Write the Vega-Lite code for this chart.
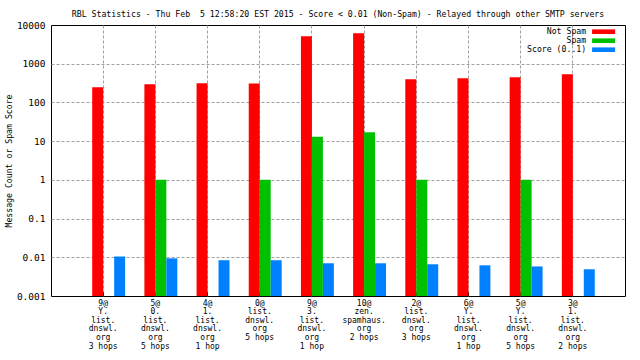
{
  "$schema": "https://vega.github.io/schema/vega-lite/v6.json",
  "width": 574,
  "height": 271,
  "autosize": "none",
  "padding": {"left": 51, "top": 25, "right": 15, "bottom": 64},
  "background": "white",
  "title": {
    "text": "RBL Statistics - Thu Feb \u00a05 12:58:20 EST 2015 - Score < 0.01 (Non-Spam) - Relayed through other SMTP servers",
    "font": "DejaVu Sans Mono",
    "fontSize": 8.2,
    "fontWeight": "normal",
    "color": "black",
    "anchor": "middle",
    "offset": 1
  },
  "config": {
    "view": {"stroke": "black", "strokeWidth": 1}
  },
  "data": {
    "values": [
      {"rbl": "9@|Y.|list.|dnswl.|org|3 hops", "series": "Not Spam", "value": 246},
      {"rbl": "9@|Y.|list.|dnswl.|org|3 hops", "series": "Score (0..1)", "value": 0.0105},
      {"rbl": "5@|0.|list.|dnswl.|org|5 hops", "series": "Not Spam", "value": 294},
      {"rbl": "5@|0.|list.|dnswl.|org|5 hops", "series": "Spam", "value": 1},
      {"rbl": "5@|0.|list.|dnswl.|org|5 hops", "series": "Score (0..1)", "value": 0.0094},
      {"rbl": "4@|1.|list.|dnswl.|org|1 hop", "series": "Not Spam", "value": 312},
      {"rbl": "4@|1.|list.|dnswl.|org|1 hop", "series": "Score (0..1)", "value": 0.0084},
      {"rbl": "0@|list.|dnswl.|org|5 hops", "series": "Not Spam", "value": 310},
      {"rbl": "0@|list.|dnswl.|org|5 hops", "series": "Spam", "value": 1},
      {"rbl": "0@|list.|dnswl.|org|5 hops", "series": "Score (0..1)", "value": 0.0084},
      {"rbl": "9@|3.|list.|dnswl.|org|1 hop", "series": "Not Spam", "value": 5100},
      {"rbl": "9@|3.|list.|dnswl.|org|1 hop", "series": "Spam", "value": 13},
      {"rbl": "9@|3.|list.|dnswl.|org|1 hop", "series": "Score (0..1)", "value": 0.0070},
      {"rbl": "10@|zen.|spamhaus.|org|2 hops", "series": "Not Spam", "value": 6100},
      {"rbl": "10@|zen.|spamhaus.|org|2 hops", "series": "Spam", "value": 17},
      {"rbl": "10@|zen.|spamhaus.|org|2 hops", "series": "Score (0..1)", "value": 0.0070},
      {"rbl": "2@|list.|dnswl.|org|3 hops", "series": "Not Spam", "value": 396},
      {"rbl": "2@|list.|dnswl.|org|3 hops", "series": "Spam", "value": 1},
      {"rbl": "2@|list.|dnswl.|org|3 hops", "series": "Score (0..1)", "value": 0.0066},
      {"rbl": "6@|Y.|list.|dnswl.|org|1 hop", "series": "Not Spam", "value": 420},
      {"rbl": "6@|Y.|list.|dnswl.|org|1 hop", "series": "Score (0..1)", "value": 0.0062},
      {"rbl": "5@|Y.|list.|dnswl.|org|5 hops", "series": "Not Spam", "value": 446},
      {"rbl": "5@|Y.|list.|dnswl.|org|5 hops", "series": "Spam", "value": 1},
      {"rbl": "5@|Y.|list.|dnswl.|org|5 hops", "series": "Score (0..1)", "value": 0.0058},
      {"rbl": "3@|1.|list.|dnswl.|org|2 hops", "series": "Not Spam", "value": 532},
      {"rbl": "3@|1.|list.|dnswl.|org|2 hops", "series": "Score (0..1)", "value": 0.0049}
    ]
  },
  "mark": {"type": "bar"},
  "encoding": {
    "x": {
      "field": "rbl",
      "type": "nominal",
      "sort": null,
      "scale": {"paddingInner": 0, "paddingOuter": 0.5},
      "axis": {
        "title": null,
        "labelExpr": "split(datum.value, '|')",
        "labelAngle": 0,
        "labelFont": "DejaVu Sans Mono",
        "labelFontSize": 8,
        "labelLineHeight": 8.6,
        "labelColor": "black",
        "labelBaseline": "top",
        "labelPadding": 7,
        "domain": false,
        "ticks": true,
        "tickSize": -4,
        "tickColor": "black",
        "bandPosition": 0.5,
        "grid": true,
        "gridDash": [3, 2],
        "gridColor": "#a0a0a0",
        "gridOpacity": 1
      }
    },
    "xOffset": {
      "field": "series",
      "type": "nominal",
      "scale": {"domain": ["_", "Not Spam", "Spam", "Score (0..1)"], "paddingInner": 0, "paddingOuter": 0.377}
    },
    "y": {
      "field": "value",
      "type": "quantitative",
      "scale": {"type": "log", "domain": [0.001, 10000], "nice": false},
      "axis": {
        "title": "Message Count or Spam Score",
        "titleFont": "DejaVu Sans Mono",
        "titleFontSize": 8.2,
        "titleFontWeight": "normal",
        "titleColor": "black",
        "titlePadding": 3,
        "values": [0.001, 0.01, 0.1, 1, 10, 100, 1000, 10000],
        "labelExpr": "datum.value >= 1 ? format(datum.value, 'd') : format(datum.value, '.3~f')",
        "labelFont": "DejaVu Sans Mono",
        "labelFontSize": 9.5,
        "labelColor": "black",
        "labelPadding": 6,
        "ticks": false,
        "domain": false,
        "grid": true,
        "gridDash": [3, 2],
        "gridColor": "#a0a0a0",
        "gridOpacity": {"condition": {"test": "datum.value >= 10000 || datum.value <= 0.001", "value": 0}, "value": 1}
      }
    },
    "y2": {"datum": 0.001},
    "color": {
      "field": "series",
      "type": "nominal",
      "scale": {"domain": ["Not Spam", "Spam", "Score (0..1)"], "range": ["#ff0000", "#00c000", "#0080ff"]},
      "legend": {
        "orient": "none",
        "legendX": 548.5,
        "legendY": 2.6,
        "title": null,
        "symbolType": "M-5,-1H5V1H-5Z",
        "symbolSize": 21.2,
        "symbolStrokeWidth": 0,
        "symbolOpacity": 1,
        "labelAlign": "right",
        "labelOffset": -21.5,
        "labelFont": "DejaVu Sans Mono",
        "labelFontSize": 8.2,
        "labelColor": "black",
        "rowPadding": 0,
        "padding": 0
      }
    }
  }
}
